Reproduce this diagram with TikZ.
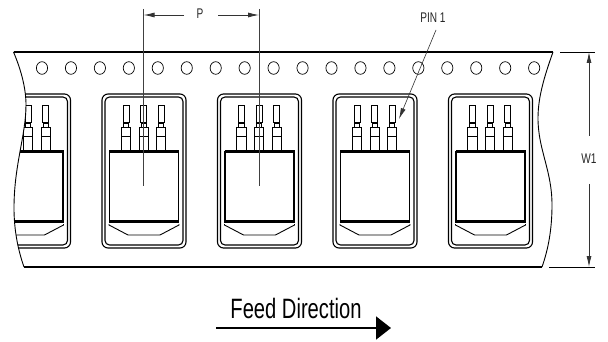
\documentclass[tikz,border=0pt]{standalone}
\usepackage{fontspec}
\setmainfont{Liberation Sans}
\newfontfamily\narrowfont[FakeStretch=0.72]{Liberation Sans}
\usetikzlibrary{arrows.meta}
\tikzset{
  edgeline/.style={line width=1.3pt,black},
  pocketline/.style={line width=1.1pt,black,rounded corners=6pt},
  partline/.style={line width=0.9pt,black},
  thickline/.style={line width=2.6pt,black},
  holeline/.style={line width=0.7pt,black},
  dimline/.style={line width=0.7pt,black!75},
  dimtip/.style={-{Latex[length=11pt,width=5pt]},line width=0.8pt,black!80},
  lbl/.style={font=\narrowfont,black!85,inner sep=0pt},
}
\newcommand{\pinshape}[1]{%
  \draw[partline] (#1-3,123) -- (#1-3,105) -- (#1+3,105) -- (#1+3,123);
  \draw[line width=1.2pt] (#1-3,123) -- (#1+3,123);
  \draw[partline] (#1-2.6,123) -- (#1-2.6,127) (#1+2.6,123) -- (#1+2.6,127);
  \draw[partline] (#1-4.6,151) -- (#1-4.6,127.5) -- (#1+4.6,127.5) -- (#1+4.6,151);
  \draw[partline] (#1-4.6,136) -- (#1+4.6,136);
}
\newcommand{\pocketcell}[1]{%
  \begin{scope}[shift={(#1,0)}]
    \draw[pocketline] (102,94) rectangle (186,248);
    \draw[pocketline,rounded corners=4.5pt] (105,97) rectangle (183,245);
    \pinshape{126}\pinshape{143.6}\pinshape{161.2}
    \draw[line width=1.7pt] (109.5,151.5) -- (178.5,151.5) -- (178.5,222) -- (109.5,222) -- cycle;
    \draw[thickline] (109,151.5) -- (179,151.5);
    \draw[thickline] (109,221.5) -- (179,221.5);
    \draw[partline] (109,224) -- (109,225) -- (128,235) -- (160,235) -- (179,225) -- (179,224);
  \end{scope}
}
\begin{document}
\begin{tikzpicture}[x=1pt,y=-1pt]
\useasboundingbox (0,0) rectangle (608,342);
\fill[white] (0,0) rectangle (608,342);
% tape outline
\coordinate (tl) at (13.5,52);
\coordinate (tr) at (553,52);
\coordinate (bl) at (24,267);
\coordinate (br) at (542,267);
\begin{scope}
  \clip (tl) .. controls (22,72) and (26,90) .. (26,105)
     .. controls (26,135) and (14,165) .. (14,208)
     .. controls (14,230) and (18,250) .. (bl)
     -- (br) .. controls (548,250) and (552,230) .. (552,205)
     .. controls (552,170) and (538,150) .. (538,118)
     .. controls (538,95) and (546,72) .. (tr) -- cycle;
  \pocketcell{-115.5}
\end{scope}
\draw[edgeline] (tl) -- (tr);
\draw[edgeline] (bl) -- (br);
\draw[edgeline,line width=0.9pt] (tl) .. controls (22,72) and (26,90) .. (26,105)
     .. controls (26,135) and (14,165) .. (14,208)
     .. controls (14,230) and (18,250) .. (bl);
\draw[edgeline,line width=0.9pt] (tr) .. controls (546,72) and (538,95) .. (538,118)
     .. controls (538,150) and (552,170) .. (552,205)
     .. controls (552,230) and (548,250) .. (br);
% sprocket holes
\foreach \k in {0,...,17} {
  \draw[holeline] ({42+28.95*\k},68) ellipse [x radius=5.6pt,y radius=6.3pt];
}
% pockets
\pocketcell{0}
\pocketcell{115.5}
\pocketcell{231}
\pocketcell{346.5}
% pitch dimension
\node[lbl,font=\narrowfont\fontsize{14}{16}\selectfont] (plabel) at (200,14) {P};
\coordinate (pa1) at (143.6,9);
\coordinate (pa2) at (143.6,186);
\coordinate (pb1) at (259,9);
\coordinate (pb2) at (259,186);
\coordinate (pl) at (184,15);
\coordinate (pr) at (218,15);
\coordinate (ptipl) at (143.6,15);
\coordinate (ptipr) at (259,15);
\draw[dimline] (pa1) -- (pa2);
\draw[dimline] (pb1) -- (pb2);
\draw[dimtip] (pl) -- (ptipl);
\draw[dimtip] (pr) -- (ptipr);
% pin 1 leader
\node[lbl,font=\narrowfont\fontsize{14}{16}\selectfont] (pin) at (433,18) {PIN 1};
\coordinate (pintip) at (399,119);
\draw[dimtip,line width=0.6pt] (436,30) -- (pintip);
% W1 dimension
\coordinate (wt1) at (560,52);
\coordinate (wt2) at (595,52);
\coordinate (wb1) at (549,267);
\coordinate (wb2) at (595,267);
\coordinate (wtop) at (589,52);
\coordinate (wbot) at (589,267);
\coordinate (wu) at (589,136);
\coordinate (wd) at (589,184);
\draw[dimline,black] (wt1) -- (wt2);
\draw[dimline,black] (wb1) -- (wb2);
\draw[dimtip] (wu) -- (wtop);
\draw[dimtip] (wd) -- (wbot);
\node[lbl,font=\narrowfont\fontsize{14}{16}\selectfont] (wlabel) at (589,159) {W1};
% feed direction
\node[lbl,font=\narrowfont\fontsize{28}{32}\selectfont,black] (feed) at (296,308) {Feed Direction};
\coordinate (fa) at (216,328);
\coordinate (fb) at (391,328);
\draw[line width=1.8pt,-{Triangle[length=15pt,width=23pt]},black] (fa) -- (fb);
\end{tikzpicture}
\end{document}
